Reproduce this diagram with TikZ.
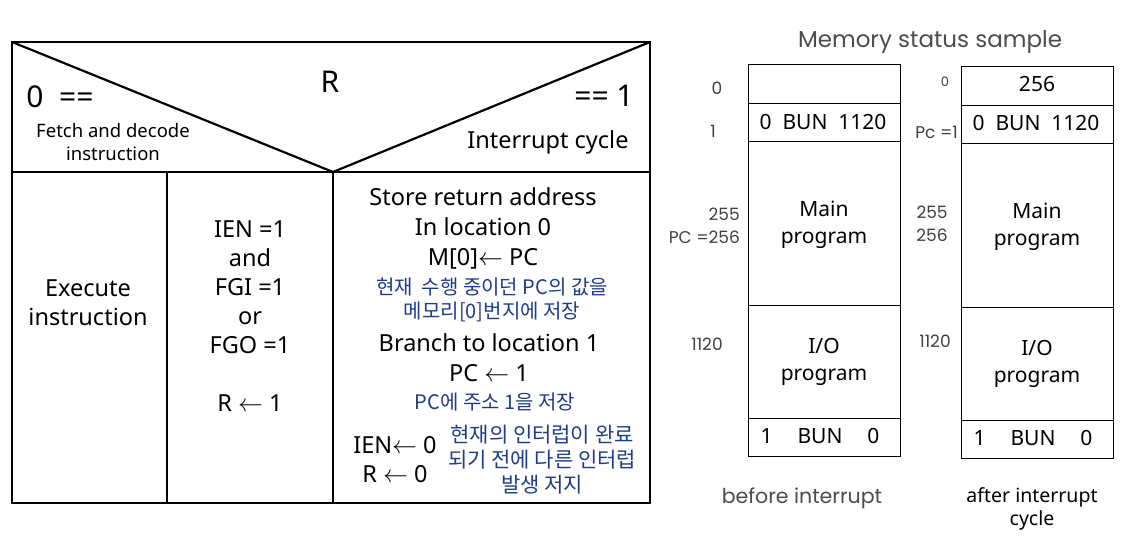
\documentclass[tikz,border=0pt]{standalone}
\usepackage{fontspec}
\setmainfont{Noto Sans}
\newfontfamily\krfont{Noto Sans CJK KR}
\newfontfamily\memfont{Poppins}
\usepackage{xcolor}
\definecolor{krblue}{HTML}{1F3C88}
\newcommand{\fsz}[2]{\fontsize{#1}{#2}\selectfont}

\begin{document}
\begin{tikzpicture}[x=1pt,y=-1pt,
	flow/.style={line width=2.2pt,line join=miter},
	mem/.style={line width=1pt},
	txt/.style={inner sep=0pt,font=\fsz{23.5}{29}},
	lbl/.style={txt,align=center},
	krt/.style={inner sep=0pt,text=krblue,font=\krfont\fsz{20}{25}},
	kr/.style={krt,align=center},
	addr/.style={inner sep=0pt,text=black!75,font=\memfont\fsz{17}{23}},
	cell/.style={inner sep=0pt,align=center,font=\fsz{21}{27}}]
	\useasboundingbox (0,0) rectangle (1121,556);

	% flowchart
	\draw[flow] (12,42) rectangle (650,172);
	\draw[flow] (12,42)--(333,172)--(650,42);
	\draw[flow] (12,172) rectangle (650,503);
	\draw[flow] (167,172)--(167,503);
	\draw[flow] (333,172)--(333,503);

	\node[txt,font=\fsz{30}{30}] (r) at (330,82) {R};
	\node[txt,font=\fsz{30}{30}] (zero) at (60,97) {0\ \ ==};
	\node[txt,font=\fsz{30}{30}] (one) at (604,96) {== 1};
	\node[lbl,font=\fsz{18.5}{23}] (fetch) at (113,142) {Fetch and decode\\instruction};
	\node[txt] (intr) at (548,142) {Interrupt cycle};

	\node[lbl] (exec) at (88,303) {Execute\\instruction};
	\node[lbl] (cond) at (250,316) {IEN =1\\and\\FGI =1\\or\\FGO =1\\[29pt]R $\leftarrow$ 1};

	\node[txt,anchor=base] (store) at (483,206) {Store return address};
	\node[txt,anchor=base] (loc0) at (483,235) {In location 0};
	\node[txt,anchor=base] (save) at (483,265) {M[0]$\leftarrow$ PC};
	\node[krt,anchor=base] (kr1) at (492,294) {현재\ \ 수행 중이던 PC의 값을};
	\node[krt,anchor=base] (kr1b) at (492,318) {메모리[0]번지에 저장};
	\node[txt,anchor=base] (branch) at (489,351) {Branch to location 1};
	\node[txt,anchor=base] (jump) at (489,381) {PC $\leftarrow$ 1};
	\node[krt,anchor=base] (kr2) at (495,409) {PC에 주소 1을 저장};
	\node[lbl] (ien) at (395,460) {IEN$\leftarrow$ 0\\R $\leftarrow$ 0};
	\node[kr,font=\krfont\fsz{21}{25}] (kr3) at (542,460) {현재의 인터럽이 완료\\되기 전에 다른 인터럽\\발생 저지};

	% memory
	\node[inner sep=0pt,text=black!70,font=\memfont\fsz{23}{23}] (title) at (930,42) {Memory status sample};
	\foreach \x/\d in {748/0,961/2}{
		\draw[mem] (\x,65+\d) rectangle (\x+152,456+\d);
		\foreach \y in {104,142,305,418}
			\draw[mem] (\x,\y+\d)--(\x+152,\y+\d);
	}

	\node[cell] (b1) at (823,122) {0\ \ BUN\ \ 1120};
	\node[cell] (b2) at (824,225) {Main\\program};
	\node[cell] (b3) at (824,362) {I/O\\program};
	\node[cell] (b4) at (820,436) {1\hspace{25pt}BUN\hspace{25pt}0};

	\node[cell] (a0) at (1037,84) {256};
	\node[cell] (a1) at (1036,123) {0\ \ BUN\ \ 1120};
	\node[cell] (a2) at (1037,227) {Main\\program};
	\node[cell] (a3) at (1037,364) {I/O\\program};
	\node[cell] (a4) at (1033,438) {1\hspace{25pt}BUN\hspace{25pt}0};

	\node[addr] (ba0) at (717,88) {0};
	\node[addr] (ba1) at (713,131) {1};
	\node[addr,anchor=east,align=right] (ba2) at (740,226) {255\\PC =256};
	\node[addr] (ba3) at (707,344) {1120};

	\node[addr,font=\memfont\fsz{13}{13}] (aa0) at (945,82) {0};
	\node[addr,anchor=east] (aa1) at (958,132) {Pc =1};
	\node[addr,align=right] (aa2) at (932,224) {255\\256};
	\node[addr] (aa3) at (935,341) {1120};

	\node[inner sep=0pt,text=black!70,font=\memfont\fsz{20.5}{20}] (before) at (802,498) {before interrupt};
	\node[lbl,font=\fsz{19.5}{23}] (after) at (1032,509) {after interrupt\\cycle};
\end{tikzpicture}
\end{document}
